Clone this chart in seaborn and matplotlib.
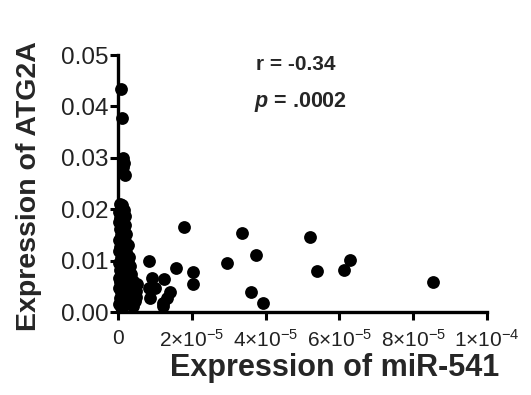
import numpy as np
import pandas as pd
import matplotlib
matplotlib.use("Agg")
import matplotlib.pyplot as plt
import seaborn as sns

# miR-541 expression (in units of 1e-6) and ATG2A expression
mir_e6 = [0.7, 1.0, 1.4, 1.6, 1.4, 1.9,
          0.5, 1.2, 0.8, 1.6, 0.4, 1.1, 2.0, 0.6, 1.4, 0.3, 1.8, 0.9, 0.5, 1.5,
          2.2, 0.7, 1.2, 0.4, 1.9, 1.0, 2.6, 0.6, 1.5, 0.3, 2.2, 1.1, 3.0, 0.7,
          1.8, 2.6, 0.4, 1.3, 3.3, 0.9, 2.1, 0.5, 2.8, 1.6, 3.6, 0.8, 2.3, 0.3,
          1.4, 3.1, 4.0, 0.6, 1.9, 2.7, 1.1, 3.6, 4.5, 0.4, 2.2, 1.5, 3.2, 0.8,
          4.2, 2.6, 1.2, 3.7, 0.5, 1.9, 2.9, 4.6, 1.0, 3.4, 0.3, 2.3, 1.5, 4.0,
          0.7, 2.8, 5.0, 4.8, 5.2,
          8.3, 9.2, 8.5, 10.0, 8.7, 12.5, 14.1, 13.2, 12.3, 12.1, 15.8, 17.9,
          20.3, 20.3, 29.5, 33.6, 37.4, 36.1, 39.2, 51.9, 54.0, 61.2, 62.8, 85.3]
atg2a = [0.0434, 0.0377, 0.0300, 0.0290, 0.0283, 0.0266,
         0.0210, 0.0208, 0.0202, 0.0198, 0.0195, 0.0190, 0.0186, 0.0183, 0.0178,
         0.0175, 0.0170, 0.0167, 0.0162, 0.0158, 0.0152, 0.0150, 0.0145, 0.0141,
         0.0138, 0.0134, 0.0130, 0.0127, 0.0123, 0.0119, 0.0116, 0.0112, 0.0108,
         0.0105, 0.0102, 0.0098, 0.0096, 0.0093, 0.0090, 0.0087, 0.0085, 0.0082,
         0.0079, 0.0077, 0.0074, 0.0072, 0.0070, 0.0067, 0.0065, 0.0063, 0.0060,
         0.0058, 0.0056, 0.0054, 0.0052, 0.0050, 0.0048, 0.0046, 0.0044, 0.0042,
         0.0040, 0.0038, 0.0036, 0.0034, 0.0032, 0.0030, 0.0028, 0.0026, 0.0024,
         0.0022, 0.0020, 0.0018, 0.0016, 0.0015, 0.0013, 0.0012, 0.0010, 0.0022,
         0.0030, 0.0041, 0.0055,
         0.0100, 0.0067, 0.0046, 0.0046, 0.0027, 0.0064, 0.0038, 0.0027, 0.0017,
         0.0012, 0.0086, 0.0165, 0.0077, 0.0054, 0.0096, 0.0153, 0.0110, 0.0038,
         0.0017, 0.0145, 0.0080, 0.0082, 0.0101, 0.0058]

x_ticks = [0, 2e-5, 4e-5, 6e-5, 8e-5, 1e-4]
x_ticklabels = ["0", r"$\mathregular{2{\times}10^{-5}}$", r"$\mathregular{4{\times}10^{-5}}$",
                r"$\mathregular{6{\times}10^{-5}}$", r"$\mathregular{8{\times}10^{-5}}$",
                r"$\mathregular{1{\times}10^{-4}}$"]
y_ticks = [0.00, 0.01, 0.02, 0.03, 0.04, 0.05]
y_ticklabels = ["0.00", "0.01", "0.02", "0.03", "0.04", "0.05"]

df = pd.DataFrame({"mir": np.array(mir_e6) * 1e-6, "atg": atg2a})

sns.set_theme(style="ticks")
plt.rcParams["font.family"] = ["Liberation Sans", "DejaVu Sans"]
plt.rcParams["mathtext.fontset"] = "custom"
plt.rcParams["mathtext.rm"] = "Liberation Sans"
plt.rcParams["mathtext.it"] = "Liberation Sans:bold:italic"
plt.rcParams["mathtext.bf"] = "Liberation Sans:bold"

fig = plt.figure(figsize=(5.31, 3.95), dpi=100)
ax = fig.add_axes([0.2222, 0.2101, 0.695, 0.6506])

sns.scatterplot(data=df, x="mir", y="atg", ax=ax, color="black", s=85,
                edgecolor="black", linewidth=0, clip_on=False, zorder=3)

ax.set_xlim(0, 1e-4)
ax.set_ylim(0, 0.05)
ax.set_xticks(x_ticks)
ax.set_xticklabels(x_ticklabels, fontsize=15)
ax.set_yticks(y_ticks)
ax.set_yticklabels(y_ticklabels, fontsize=17.5)
ax.tick_params(axis="both", direction="out", length=6, width=2.2, colors="black")
ax.tick_params(axis="y", pad=1)
ax.tick_params(axis="x", pad=6)
for lab in ax.get_xticklabels() + ax.get_yticklabels():
    lab.set_color("#222222")

sns.despine(ax=ax)
for side in ["left", "bottom"]:
    ax.spines[side].set_linewidth(2.4)
    ax.spines[side].set_color("black")

ax.set_xlabel("Expression of miR-541", fontsize=22, fontweight="bold")
ax.set_ylabel("Expression of ATG2A", fontsize=20.5, fontweight="bold")
ax.xaxis.set_label_coords(0.588, -0.16)
ax.yaxis.set_label_coords(-0.205, 0.49)

fig.text(296 / 531, 1 - 65 / 395, "r = -0.34", ha="center", va="center",
         fontsize=15, fontweight="bold")
fig.text(301 / 531, 1 - 102 / 395, r"$\mathit{p}$ = .0002", ha="center", va="center",
         fontsize=15.5, fontweight="bold")

fig.savefig("out.png", dpi=100, facecolor="white")
